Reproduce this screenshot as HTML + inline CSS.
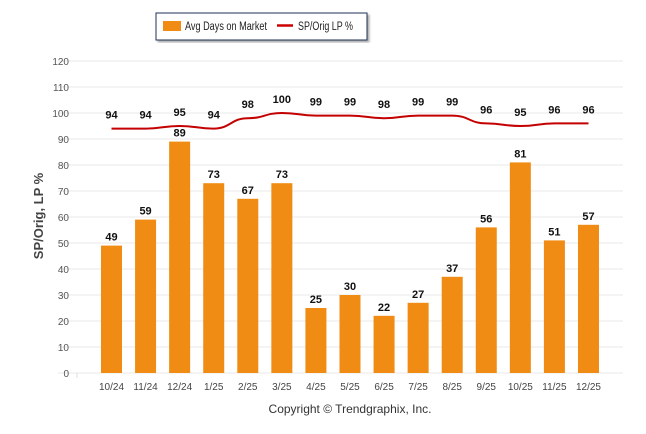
<!DOCTYPE html>
<html><head><meta charset="utf-8"><style>
body{margin:0;background:#fff;}
svg{display:block;font-family:"Liberation Sans",sans-serif;}
</style></head><body>
<svg id="chart" width="646" height="434">
<defs><filter id="sh"><feDropShadow dx="2" dy="2" stdDeviation="1" flood-color="#888" flood-opacity="0.7"/></filter></defs>
<g>
<rect x="156" y="13" width="211" height="27" fill="#fff" stroke="#1f3057" stroke-width="1" filter="url(#sh)"/>
<rect x="163" y="21" width="18" height="10" fill="#f08c14"/>
<text x="185" y="30" font-size="11.5" textLength="82" lengthAdjust="spacingAndGlyphs" fill="#222">Avg Days on Market</text>
<line x1="277" y1="25.5" x2="293" y2="25.5" stroke="#c00" stroke-width="2.5"/>
<text x="298" y="30" font-size="11.5" textLength="55" lengthAdjust="spacingAndGlyphs" fill="#222">SP/Orig LP %</text>
</g>
<g id="grid"></g>
<g id="bars"></g>
<g id="line"></g>
<text transform="translate(43,216) rotate(-90)" text-anchor="middle" font-size="13" font-weight="bold" fill="#444">SP/Orig, LP %</text>
<text x="350" y="413" text-anchor="middle" font-size="12" fill="#333">Copyright © Trendgraphix, Inc.</text>
</svg>
<script>
const categories=["10/24","11/24","12/24","1/25","2/25","3/25","4/25","5/25","6/25","7/25","8/25","9/25","10/25","11/25","12/25"];
const daysOnMarket=[49,59,89,73,67,73,25,30,22,27,37,56,81,51,57];
const spOrigLp=[94,94,95,94,98,100,99,99,98,99,99,96,95,96,96];
const yTicks=[0,10,20,30,40,50,60,70,80,90,100,110,120];
const NS="http://www.w3.org/2000/svg";
const y0=373,yMax=61;
function y(v){return y0-(v/120)*(y0-yMax);}
function x(i){return 111.5+i*34.07;}
function mk(t,a,p){const e=document.createElementNS(NS,t);for(const k in a)e.setAttribute(k,a[k]);p.appendChild(e);return e;}
const grid=document.getElementById('grid');
yTicks.forEach(v=>{
  const l=mk('line',{x1:58,x2:623,y1:y(v),y2:y(v),stroke:'#e8e8e8','stroke-width':1},grid);
  
  
  const t=mk('text',{x:69,y:y(v)+4,'text-anchor':'end','font-size':10,fill:'#555'},grid);
  t.textContent=v;
  
  
});
mk('line',{x1:77,x2:77,y1:y0,y2:y0+5,stroke:'#ddd'},grid);
const bars=document.getElementById('bars');
categories.forEach((c,i)=>{
  const v=daysOnMarket[i];
  const r=mk('rect',{x:x(i)-10.5,y:y(v),width:21,height:y0-y(v),fill:'#f08c14'},bars);
  
  
  const t=mk('text',{x:x(i),y:y(v)-5,'text-anchor':'middle','font-size':11,'font-weight':'bold',fill:'#111'},bars);
  t.textContent=v;
  
  
  const xl=mk('text',{x:x(i),y:390,'text-anchor':'middle','font-size':10,fill:'#444'},bars);
  xl.textContent=c;
  
  
});
const lg=document.getElementById('line');
let d='';
spOrigLp.forEach((v,i)=>{
  if(i===0){d+='M'+x(i)+','+y(v);}
  else{const px=x(i-1),py=y(spOrigLp[i-1]),cx=x(i),cy=y(v),dx=(cx-px)/2;d+=' C'+(px+dx)+','+py+' '+(cx-dx)+','+cy+' '+cx+','+cy;}
});
const p=mk('path',{d:d,fill:'none',stroke:'#c40000','stroke-width':2},lg);


spOrigLp.forEach((v,i)=>{
  const t=mk('text',{x:x(i),y:y(v)-10,'text-anchor':'middle','font-size':11,'font-weight':'bold',fill:'#111'},lg);
  t.textContent=v;
  
  
});
</script>
</body></html>
